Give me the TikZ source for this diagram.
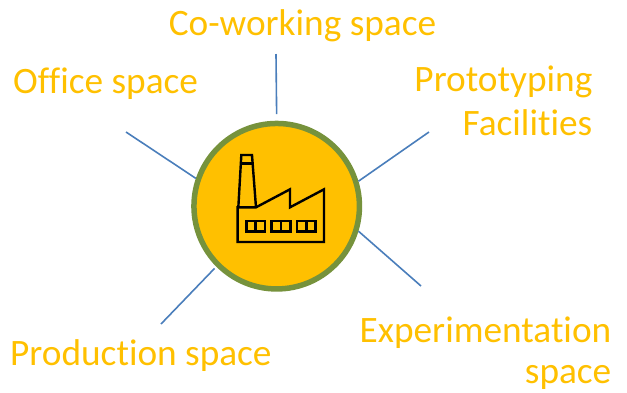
\documentclass[tikz,border=0pt]{standalone}
\usepackage{fontspec}
\setmainfont[Ligatures=CommonOff]{Carlito}
\definecolor{gold}{HTML}{FFC000}
\definecolor{ringgreen}{HTML}{76923C}
\definecolor{spoke}{HTML}{4A7EBB}
\tikzset{
  px/.style={x=1pt,y=-1pt},
  hubnode/.style={circle,draw=ringgreen,fill=gold,line width=5.5pt,minimum size=165.5pt,inner sep=0pt},
  spokeline/.style={draw=spoke,line width=1.6pt},
  lab/.style={text=gold,font=\fontsize{37.3}{45}\selectfont,inner sep=0pt},
  factory/.style={draw=black,line width=2.4pt,line join=miter}
}
\begin{document}
\begin{tikzpicture}[px]
\useasboundingbox (0,0) rectangle (627,392);
\node[hubnode] (hub) at (276.7,206.2) {};
\coordinate (endtop) at (276,54);
\coordinate (endru) at (429,132);
\coordinate (endrd) at (421,286);
\coordinate (endld) at (161,324);
\coordinate (endlu) at (126,132);
\draw[spokeline,shorten <=6.5pt] (hub.90) -- (endtop);
\draw[spokeline] (hub.17.5) -- (endru);
\draw[spokeline] (hub.-17.3) -- (endrd);
\draw[spokeline,shorten <=2.5pt] (hub.225.7) -- (endld);
\draw[spokeline] (hub.161.7) -- (endlu);
\node[lab,anchor=base] (cowork) at (302.5,35) {Co-working space};
\node[lab,anchor=base west] (office) at (13,93) {Office space};
\node[lab,anchor=base east] (proto1) at (592.5,91) {Prototyping};
\node[lab,anchor=base east] (proto2) at (592.5,135) {Facilities};
\node[lab,anchor=base west] (prod) at (10,365) {Production space};
\node[lab,anchor=base east] (exper1) at (611.5,342) {Experimentation};
\node[lab,anchor=base east] (exper2) at (611.5,383) {space};
% factory icon
\begin{scope}[shift={(180,110)},x=0.3333pt,y=-0.3333pt,factory]
\draw (175,292) -- (184,135) -- (216,135) -- (228,292);
\draw (185,160) -- (217,160);
\draw (173,292) -- (228,292) -- (330,238) -- (330,292) -- (432,238) -- (432,396) -- (173,396) -- cycle;
\draw (199,333) rectangle (255,365) (227,333) -- (227,365);
\draw (275,333) rectangle (331,365) (303,333) -- (303,365);
\draw (351,333) rectangle (407,365) (379,333) -- (379,365);
\end{scope}
\end{tikzpicture}
\end{document}
